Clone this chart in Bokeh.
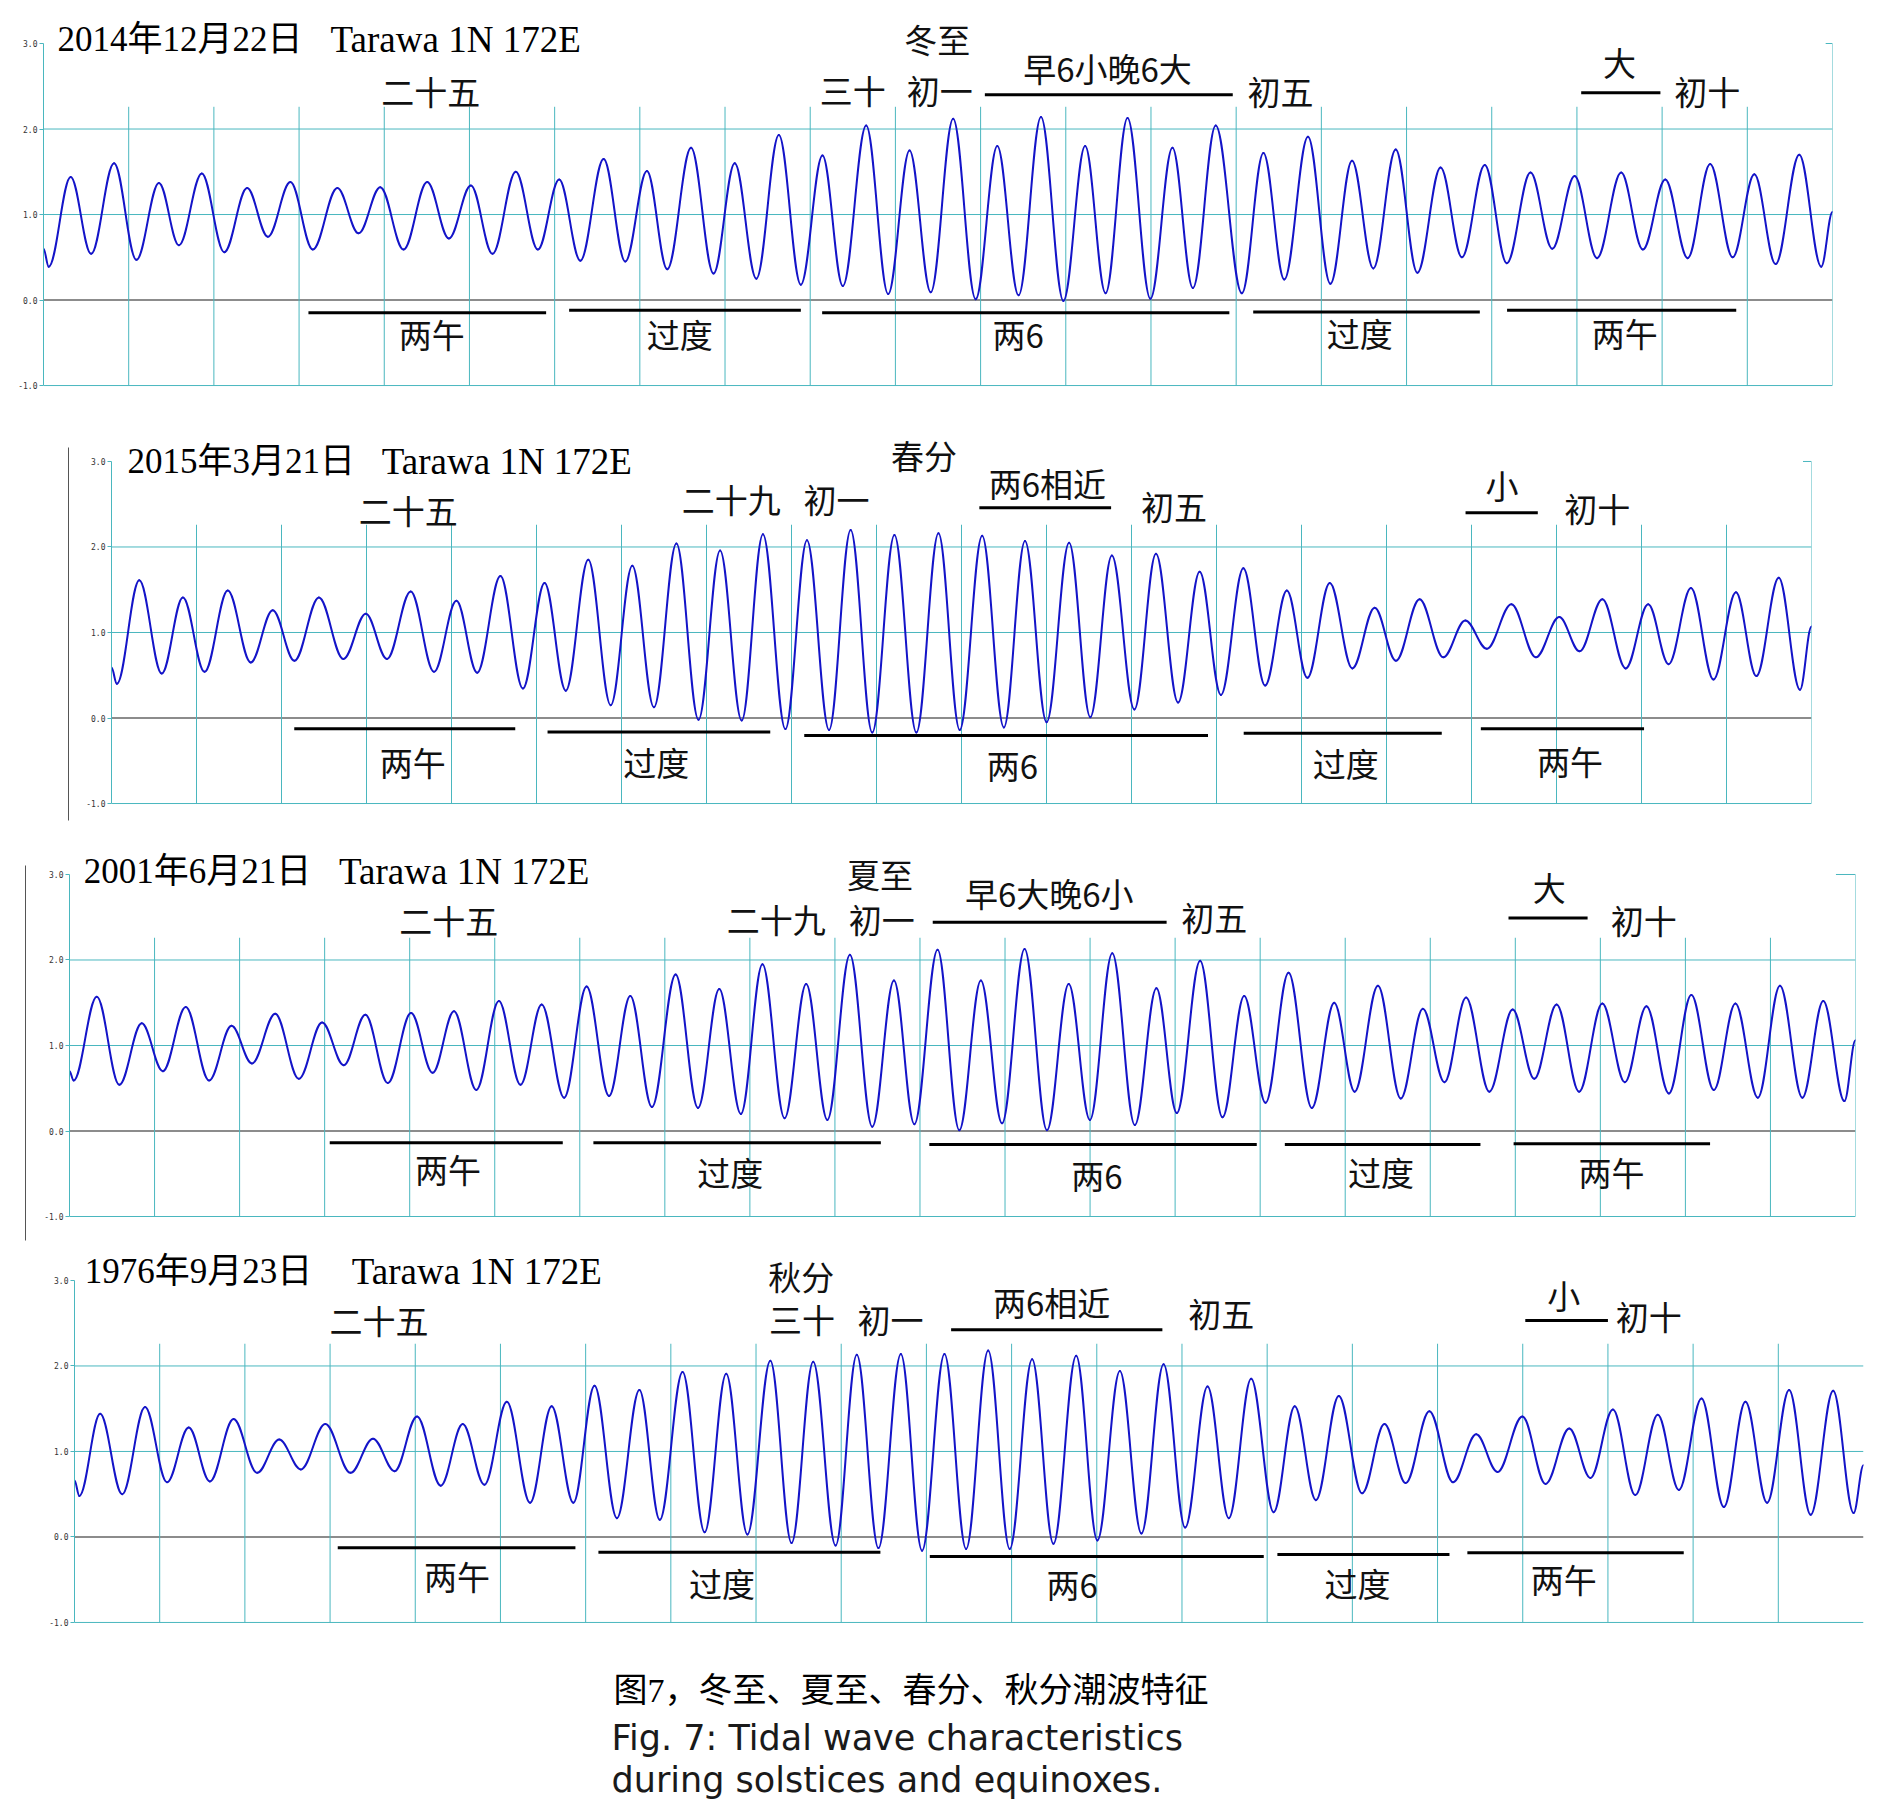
from bokeh.plotting import figure
from bokeh.layouts import column, row
from bokeh.models import Range1d, FixedTicker, PrintfTickFormatter
from bokeh.core.properties import value
from bokeh.embed import file_html
from bokeh.resources import INLINE

# ---------------- data: tide extremes (time in days from the panel start, height) ----------------
tide_2014_t = [0.0, 0.061, 0.319, 0.559, 0.828, 1.091, 1.355, 1.590, 1.858, 2.122,
               2.390, 2.634, 2.898, 3.161, 3.449, 3.699, 3.953, 4.227, 4.504, 4.759,
               5.017, 5.271, 5.544, 5.803, 6.053, 6.302, 6.575, 6.829, 7.083, 7.322,
               7.601, 7.865, 8.114, 8.368, 8.632, 8.890, 9.144, 9.383, 9.657, 9.915,
               10.166, 10.415, 10.678, 10.942, 11.196, 11.446, 11.709, 11.972, 12.227, 12.467,
               12.725, 12.993, 13.252, 13.492, 13.760, 14.067, 14.320, 14.565, 14.843, 15.106,
               15.360, 15.610, 15.873, 16.127, 16.400, 16.650, 16.918, 17.177, 17.455, 17.710,
               17.973, 18.236, 18.519, 18.774, 19.037, 19.300, 19.564, 19.828, 20.083, 20.332,
               20.610, 20.868, 21.0]
tide_2014_h = [0.60, 0.39, 1.44, 0.54, 1.60, 0.47, 1.37, 0.64, 1.48, 0.56,
               1.31, 0.74, 1.38, 0.59, 1.31, 0.78, 1.32, 0.59, 1.38, 0.72,
               1.34, 0.54, 1.50, 0.59, 1.41, 0.46, 1.65, 0.45, 1.51, 0.36,
               1.78, 0.31, 1.60, 0.25, 1.93, 0.18, 1.69, 0.165, 2.04, 0.07,
               1.75, 0.09, 2.12, 0.01, 1.80, 0.055, 2.14, -0.01, 1.80, 0.08,
               2.13, 0.015, 1.78, 0.14, 2.04, 0.08, 1.72, 0.24, 1.91, 0.19,
               1.63, 0.37, 1.76, 0.32, 1.55, 0.50, 1.58, 0.43, 1.49, 0.60,
               1.45, 0.49, 1.49, 0.59, 1.41, 0.49, 1.59, 0.50, 1.47, 0.42,
               1.70, 0.39, 1.03]

tide_2015_t = [0.0, 0.063, 0.327, 0.591, 0.840, 1.095, 1.368, 1.638, 1.897, 2.152,
               2.440, 2.728, 2.992, 3.241, 3.520, 3.794, 4.058, 4.302, 4.576, 4.840,
               5.095, 5.345, 5.609, 5.873, 6.127, 6.382, 6.646, 6.906, 7.160, 7.414,
               7.664, 7.928, 8.182, 8.442, 8.696, 8.950, 9.211, 9.469, 9.729, 9.979,
               10.243, 10.498, 10.747, 11.001, 11.266, 11.515, 11.769, 12.034, 12.288, 12.548,
               12.802, 13.052, 13.316, 13.571, 13.828, 14.069, 14.333, 14.598, 14.861, 15.111,
               15.389, 15.668, 15.927, 16.181, 16.469, 16.758, 17.032, 17.272, 17.540, 17.814,
               18.079, 18.319, 18.582, 18.847, 19.111, 19.351, 19.615, 19.865, 20.0]
tide_2015_h = [0.59, 0.40, 1.61, 0.52, 1.41, 0.54, 1.49, 0.65, 1.26, 0.67,
               1.41, 0.69, 1.22, 0.69, 1.48, 0.54, 1.37, 0.53, 1.66, 0.345,
               1.58, 0.32, 1.85, 0.15, 1.78, 0.125, 2.04, -0.02, 1.96, -0.03,
               2.15, -0.13, 2.08, -0.14, 2.20, -0.17, 2.14, -0.17, 2.16, -0.14,
               2.13, -0.11, 2.07, -0.05, 2.05, 0.01, 1.90, 0.10, 1.92, 0.18,
               1.71, 0.27, 1.75, 0.38, 1.49, 0.47, 1.58, 0.58, 1.29, 0.67,
               1.39, 0.71, 1.14, 0.81, 1.33, 0.71, 1.18, 0.78, 1.39, 0.58,
               1.33, 0.63, 1.52, 0.45, 1.47, 0.49, 1.64, 0.33, 1.07]

tide_2001_t = [0.0, 0.048, 0.321, 0.586, 0.849, 1.098, 1.367, 1.641, 1.905, 2.145,
               2.419, 2.697, 2.970, 3.225, 3.479, 3.743, 4.016, 4.270, 4.521, 4.784,
               5.049, 5.303, 5.552, 5.816, 6.080, 6.344, 6.594, 6.848, 7.127, 7.390,
               7.640, 7.894, 8.148, 8.408, 8.662, 8.911, 9.176, 9.439, 9.694, 9.934,
               10.207, 10.462, 10.716, 10.965, 11.230, 11.493, 11.749, 11.998, 12.261, 12.526,
               12.780, 13.020, 13.294, 13.557, 13.812, 14.063, 14.334, 14.607, 14.871, 15.111,
               15.385, 15.653, 15.913, 16.167, 16.421, 16.695, 16.969, 17.223, 17.486, 17.750,
               18.023, 18.288, 18.542, 18.806, 19.070, 19.334, 19.588, 19.852, 20.112, 20.375,
               20.621, 20.870, 21.0]
tide_2001_h = [0.70, 0.59, 1.57, 0.54, 1.26, 0.70, 1.45, 0.59, 1.23, 0.79,
               1.37, 0.61, 1.27, 0.77, 1.36, 0.56, 1.38, 0.68, 1.40, 0.48,
               1.52, 0.54, 1.48, 0.39, 1.69, 0.41, 1.58, 0.28, 1.83, 0.27,
               1.66, 0.20, 1.95, 0.15, 1.72, 0.13, 2.06, 0.05, 1.76, 0.08,
               2.12, 0.01, 1.76, 0.09, 2.13, 0.01, 1.72, 0.13, 2.08, 0.07,
               1.67, 0.21, 1.99, 0.16, 1.58, 0.33, 1.85, 0.27, 1.50, 0.46,
               1.70, 0.38, 1.43, 0.57, 1.56, 0.46, 1.42, 0.61, 1.48, 0.46,
               1.49, 0.57, 1.46, 0.44, 1.59, 0.48, 1.49, 0.39, 1.70, 0.39,
               1.52, 0.35, 1.06]

tide_1976_t = [0.0, 0.057, 0.301, 0.560, 0.828, 1.086, 1.341, 1.589, 1.867, 2.144,
               2.403, 2.657, 2.944, 3.241, 3.504, 3.758, 4.021, 4.299, 4.557, 4.812,
               5.075, 5.348, 5.601, 5.856, 6.104, 6.367, 6.631, 6.870, 7.138, 7.397,
               7.650, 7.899, 8.168, 8.417, 8.671, 8.934, 9.183, 9.437, 9.700, 9.949,
               10.212, 10.466, 10.725, 10.978, 11.241, 11.491, 11.758, 12.007, 12.271, 12.524,
               12.784, 13.037, 13.300, 13.550, 13.812, 14.076, 14.324, 14.572, 14.841, 15.114,
               15.377, 15.626, 15.904, 16.182, 16.454, 16.704, 16.996, 17.268, 17.546, 17.795,
               18.059, 18.321, 18.585, 18.834, 19.098, 19.361, 19.614, 19.869, 20.127, 20.380,
               20.644, 20.884, 21.0]
tide_1976_h = [0.66, 0.48, 1.44, 0.50, 1.52, 0.64, 1.28, 0.65, 1.38, 0.75,
               1.14, 0.79, 1.32, 0.75, 1.15, 0.77, 1.41, 0.60, 1.32, 0.61,
               1.58, 0.40, 1.53, 0.40, 1.77, 0.22, 1.72, 0.20, 1.93, 0.055,
               1.91, 0.03, 2.06, -0.07, 2.05, -0.10, 2.13, -0.13, 2.14, -0.16,
               2.14, -0.14, 2.18, -0.14, 2.08, -0.08, 2.12, -0.04, 1.94, 0.04,
               2.02, 0.11, 1.76, 0.22, 1.85, 0.29, 1.53, 0.43, 1.65, 0.51,
               1.32, 0.63, 1.47, 0.64, 1.20, 0.76, 1.41, 0.62, 1.27, 0.69,
               1.49, 0.49, 1.43, 0.55, 1.62, 0.35, 1.58, 0.40, 1.72, 0.26,
               1.71, 0.28, 0.84]

for _t, _h in [(tide_2014_t, tide_2014_h), (tide_2015_t, tide_2015_h),
               (tide_2001_t, tide_2001_h), (tide_1976_t, tide_1976_h)]:
    assert len(_t) == len(_h)

y_ticks = [-1.0, 0.0, 1.0, 2.0, 3.0]
grid_levels = [-1.0, 1.0, 2.0]
zero_level = 0.0

titles_date = ["2014年12月22日", "2015年3月21日", "2001年6月21日", "1976年9月23日"]
station = "Tarawa 1N 172E"

caption_cn = "图7，冬至、夏至、春分、秋分潮波特征"
caption_en = ["Fig. 7: Tidal wave characteristics", "during solstices and equinoxes."]

# ---------------- styles ----------------
TEAL = "#4ab7bf"
BLUE = "#1414c8"
GRAY0 = "#8c8c8c"
INK = "#111111"
CJK = "Noto Sans CJK SC"
SERIF = "Liberation Serif, Noto Sans CJK SC"
K = 0.3634          # bezier handle fraction giving a cosine-like swing between extremes
DAYLINE_TOP = 2.26

panels = [
    dict(t=tide_2014_t, h=tide_2014_h, ndays=21, width=1888, height=400, left=43, right=56,
         ytop=3.503, ybot=-1.175, title_x=(0.164, 3.37), title_y=3.047,
         top=[("二十五", 4.545, 2.444), ("冬至", 10.49, 3.047), ("三十", 9.50, 2.456),
              ("初一", 10.52, 2.456), ("早6小晚6大", 12.49, 2.713), ("初五", 14.52, 2.45),
              ("大", 18.50, 2.778), ("初十", 19.53, 2.44)],
         bottom=[("两午", 4.557, -0.398), ("过度", 7.47, -0.398), ("两6", 11.44, -0.398),
                 ("过度", 15.45, -0.39), ("两午", 18.56, -0.39)],
         bars=[(11.05, 13.96, 2.40), (18.05, 18.98, 2.423), (3.11, 5.90, -0.148),
               (6.17, 8.89, -0.12), (9.14, 13.92, -0.148), (14.20, 16.86, -0.14),
               (17.18, 19.87, -0.12)],
         border=True, corner=0.08, strip=None),
    dict(t=tide_2015_t, h=tide_2015_h, ndays=20, width=1810, height=435, left=33, right=77,
         ytop=3.713, ybot=-1.374, title_x=(0.188, 3.18), title_y=3.0,
         top=[("二十五", 3.49, 2.433), ("二十九", 7.29, 2.564), ("初一", 8.53, 2.564),
              ("春分", 9.56, 3.07), ("两6相近", 11.01, 2.754), ("初五", 12.5, 2.474),
              ("小", 16.36, 2.72), ("初十", 17.48, 2.456)],
         bottom=[("两午", 3.545, -0.509), ("过度", 6.41, -0.52), ("两6", 10.6, -0.544),
                 ("过度", 14.52, -0.53), ("两午", 17.16, -0.497)],
         bars=[(10.21, 11.76, 2.458), (15.93, 16.78, 2.40), (2.15, 4.75, -0.126),
               (5.13, 7.75, -0.165), (8.15, 12.9, -0.205), (13.32, 15.65, -0.177),
               (16.11, 18.03, -0.126)],
         border=True, corner=0.1, strip=(78, 68, 47, 420)),
    dict(t=tide_2001_t, h=tide_2001_h, ndays=21, width=1850, height=410, left=31, right=33,
         ytop=3.456, ybot=-1.339, title_x=(0.168, 3.17), title_y=3.03,
         top=[("二十五", 4.46, 2.462), ("夏至", 9.53, 3.0), ("二十九", 8.31, 2.48),
              ("初一", 9.55, 2.48), ("早6大晚6小", 11.52, 2.778), ("初五", 13.46, 2.50),
              ("大", 17.40, 2.848), ("初十", 18.51, 2.462)],
         bottom=[("两午", 4.45, -0.44), ("过度", 7.77, -0.485), ("两6", 12.08, -0.515),
                 ("过度", 15.42, -0.485), ("两午", 18.13, -0.485)],
         bars=[(10.15, 12.9, 2.442), (16.92, 17.85, 2.49), (3.06, 5.80, -0.138),
               (6.16, 9.54, -0.138), (10.11, 13.96, -0.158), (14.29, 16.59, -0.158),
               (16.98, 19.29, -0.15)],
         border=True, corner=0.23, strip=(38, 25, 30, 405)),
    dict(t=tide_1976_t, h=tide_1976_h, ndays=21, width=1888, height=405, left=74, right=25,
         ytop=3.409, ybot=-1.328, title_x=(0.12, 3.255), title_y=3.105,
         top=[("二十五", 3.574, 2.532), ("秋分", 8.53, 3.047), ("三十", 8.54, 2.552),
              ("初一", 9.58, 2.552), ("两6相近", 11.47, 2.743), ("初五", 13.46, 2.614),
              ("小", 17.48, 2.825), ("初十", 18.48, 2.59)],
         bottom=[("两午", 4.49, -0.462), ("过度", 7.60, -0.538), ("两6", 11.71, -0.555),
                 ("过度", 15.06, -0.544), ("两午", 17.48, -0.497)],
         bars=[(10.29, 12.77, 2.423), (17.03, 18.0, 2.532), (3.09, 5.88, -0.126),
               (6.15, 9.46, -0.178), (10.04, 13.96, -0.228), (14.12, 16.14, -0.205),
               (16.35, 18.89, -0.185)],
         border=False, corner=0.0, strip=None),
]


def make_panel(cfg, date_text):
    nd = cfg["ndays"]
    p = figure(width=cfg["width"], height=cfg["height"],
               x_range=Range1d(0, nd), y_range=Range1d(cfg["ybot"], cfg["ytop"]),
               x_axis_location=None, title=None,
               output_backend="svg", toolbar_location=None,
               min_border_left=cfg["left"], min_border_right=cfg["right"],
               min_border_top=0, min_border_bottom=0)
    p.outline_line_color = None
    p.background_fill_color = "white"
    p.border_fill_color = "white"
    p.xgrid.visible = False
    p.ygrid.visible = False

    ax = p.yaxis[0]
    ax.ticker = FixedTicker(ticks=y_ticks)
    ax.formatter = PrintfTickFormatter(format="%.1f")
    ax.bounds = (-1.0, 3.0)
    ax.axis_line_color = TEAL
    ax.axis_line_width = 1
    ax.major_tick_line_color = TEAL
    ax.major_tick_out = 4
    ax.major_tick_in = 0
    ax.minor_tick_line_color = None
    ax.major_label_text_font = "DejaVu Sans Mono"
    ax.major_label_text_font_size = "8px"
    ax.major_label_text_color = "#333333"
    ax.major_label_standoff = 2

    # horizontal reference lines
    n = len(grid_levels)
    p.segment(x0=[0] * n, y0=grid_levels, x1=[nd] * n, y1=grid_levels,
              line_color=TEAL, line_width=1)
    p.segment(x0=[0], y0=[zero_level], x1=[nd], y1=[zero_level],
              line_color=GRAY0, line_width=2)
    # day lines
    days = list(range(1, nd))
    p.segment(x0=days, y0=[-1.0] * len(days), x1=days, y1=[DAYLINE_TOP] * len(days),
              line_color=TEAL, line_width=1)
    if cfg["border"]:
        p.segment(x0=[nd], y0=[-1.0], x1=[nd], y1=[3.0], line_color=TEAL, line_width=1)
        p.segment(x0=[nd - cfg["corner"]], y0=[3.0], x1=[nd], y1=[3.0],
                  line_color=TEAL, line_width=1)

    # tide curve: smooth swings between successive extremes
    t, h = cfg["t"], cfg["h"]
    x0, x1 = t[:-1], t[1:]
    y0, y1 = h[:-1], h[1:]
    cx0 = [a + K * (b - a) for a, b in zip(x0, x1)]
    cx1 = [b - K * (b - a) for a, b in zip(x0, x1)]
    p.bezier(x0=x0, y0=y0, x1=x1, y1=y1, cx0=cx0, cy0=y0, cx1=cx1, cy1=y1,
             line_color=BLUE, line_width=2, line_cap="round")

    # annotation bars
    bars = cfg["bars"]
    p.segment(x0=[b[0] for b in bars], y0=[b[2] for b in bars],
              x1=[b[1] for b in bars], y1=[b[2] for b in bars],
              line_color="black", line_width=3)

    # title
    p.text(x=[cfg["title_x"][0]], y=[cfg["title_y"]], text=[date_text],
           text_font=value(SERIF), text_font_size="35px", text_color="black",
           text_align="left", text_baseline="middle")
    p.text(x=[cfg["title_x"][1]], y=[cfg["title_y"]], text=[station],
           text_font=value(SERIF), text_font_size="37px", text_color="black",
           text_align="left", text_baseline="middle")

    labels = cfg["top"] + cfg["bottom"]
    p.text(x=[a[1] for a in labels], y=[a[2] for a in labels], text=[a[0] for a in labels],
           text_font=value(CJK), text_font_size="33px", text_color=INK,
           text_align="center", text_baseline="middle")
    return p


def make_strip(width, height, xline, ya, yb):
    s = figure(width=width, height=height, x_range=Range1d(0, width), y_range=Range1d(height, 0),
               x_axis_location=None, y_axis_location=None, title=None,
               output_backend="svg", toolbar_location=None,
               min_border_left=0, min_border_right=0, min_border_top=0, min_border_bottom=0)
    s.outline_line_color = None
    s.xgrid.visible = False
    s.ygrid.visible = False
    s.segment(x0=[xline], y0=[ya], x1=[xline], y1=[yb], line_color="#555555", line_width=1)
    return s


rows = []
for cfg, date_text in zip(panels, titles_date):
    p = make_panel(cfg, date_text)
    if cfg["strip"] is not None:
        w, xl, ya, yb = cfg["strip"]
        rows.append(row(make_strip(w, cfg["height"], xl, ya, yb), p, spacing=0))
    else:
        rows.append(row(p, spacing=0))

cap = figure(width=1888, height=160, x_range=Range1d(0, 1888), y_range=Range1d(160, 0),
             x_axis_location=None, y_axis_location=None, title=None,
             output_backend="svg", toolbar_location=None,
             min_border_left=0, min_border_right=0, min_border_top=0, min_border_bottom=0)
cap.outline_line_color = None
cap.xgrid.visible = False
cap.ygrid.visible = False
cap.text(x=[613], y=[40], text=[caption_cn], text_font=value(SERIF), text_font_size="34px",
         text_color="black", text_align="left", text_baseline="middle")
cap.text(x=[611, 611], y=[87, 129], text=caption_en, text_font=value("DejaVu Sans"),
         text_font_size="35px", text_color="#1a1a1a", text_align="left",
         text_baseline="alphabetic")
rows.append(row(cap, spacing=0))

layout = column(*rows, spacing=0)
open("out.html", "w").write(file_html(layout, INLINE))
